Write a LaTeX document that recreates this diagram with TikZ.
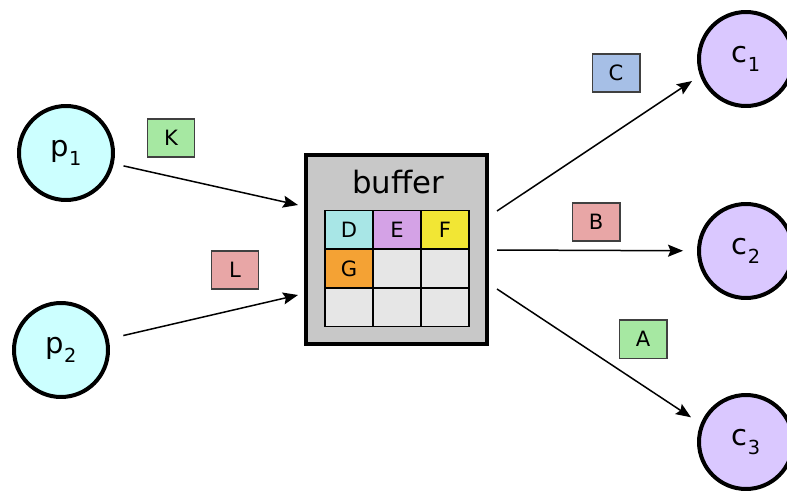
\documentclass[tikz,border=0pt]{standalone}
\usepackage{fontspec}
\setmainfont{DejaVu Sans}
\usetikzlibrary{arrows.meta}

\definecolor{prodfill}{HTML}{CCFFFF}
\definecolor{consfill}{HTML}{DAC8FF}
\definecolor{buffgray}{HTML}{C8C8C8}
\definecolor{cellgray}{HTML}{E6E6E6}
\definecolor{msggreen}{HTML}{A6E8A2}
\definecolor{msgred}{HTML}{E8A6A6}
\definecolor{msgblue}{HTML}{A6BFE6}
\definecolor{cellcyan}{HTML}{A8E6E6}
\definecolor{cellviolet}{HTML}{D4A2E6}
\definecolor{cellyellow}{HTML}{F2E634}
\definecolor{cellorange}{HTML}{F4A234}

\newcommand{\idx}[2]{#1\raisebox{-0.3em}{\fontsize{11}{13}\selectfont #2}}

\begin{document}
\begin{tikzpicture}[x=0.02cm,y=0.02cm,
  proc/.style={circle,draw,line width=0.08cm,minimum size=1.88cm,inner sep=0pt,font=\fontsize{16.5}{20}\selectfont},
  msg/.style={draw=black!75,line width=0.03cm,minimum width=0.95cm,minimum height=0.77cm,inner sep=0pt,font=\fontsize{12}{14}\selectfont},
  cell/.style={draw,line width=0.03cm,minimum width=0.96cm,minimum height=0.774cm,inner sep=0pt,outer sep=0pt,fill=cellgray,font=\fontsize{12}{14}\selectfont},
  flow/.style={-{Stealth[length=0.3cm,width=0.24cm,inset=0.05cm]},line width=0.03cm}]
\useasboundingbox (0,0) rectangle (787,491);
% producers and consumers
\node[proc,fill=prodfill] (p1) at (66,338) {\idx{p}{1}};
\node[proc,fill=prodfill] (p2) at (61,141) {\idx{p}{2}};
\node[proc,fill=consfill] (c1) at (746,432) {\idx{c}{1}};
\node[proc,fill=consfill] (c2) at (746,240) {\idx{c}{2}};
\node[proc,fill=consfill] (c3) at (746,49) {\idx{c}{3}};
% buffer
\node[draw,line width=0.08cm,fill=buffgray,minimum width=3.62cm,minimum height=3.78cm] (buffer) at (396.5,241.5) {};
\node[font=\fontsize{17.5}{20}\selectfont] (title) at (398,308.5) {buffer};
\node[cell,fill=cellcyan] (d) at (349,261) {D};
\node[cell,fill=cellviolet] (e) at (397,261) {E};
\node[cell,fill=cellyellow] (f) at (445,261) {F};
\node[cell,fill=cellorange] (g) at (349,222.5) {G};
\node[cell] (h) at (397,222.5) {};
\node[cell] (i) at (445,222.5) {};
\node[cell] (j) at (349,183.8) {};
\node[cell] (k) at (397,183.8) {};
\node[cell] (l) at (445,183.8) {};
% messages
\node[msg,fill=msggreen] (mk) at (171,353) {K};
\node[msg,fill=msgred] (ml) at (235,221) {L};
\node[msg,fill=msgblue] (mc) at (616,418) {C};
\node[msg,fill=msgred] (mb) at (596,269) {B};
\node[msg,fill=msggreen] (ma) at (643,152) {A};
% arrows
\coordinate (i1) at (298,286);
\coordinate (i2) at (298,196);
\coordinate (o1) at (497,280);
\coordinate (o2) at (497,241);
\coordinate (o3) at (497,202);
\draw[flow,shorten <=0.2cm] (p1) -- (i1);
\draw[flow,shorten <=0.3cm] (p2) -- (i2);
\draw[flow,shorten >=0.19cm] (o1) -- (c1.200);
\draw[flow,shorten >=0.28cm] (o2) -- (c2);
\draw[flow,shorten >=0.23cm] (o3) -- (c3.158);
\end{tikzpicture}
\end{document}
